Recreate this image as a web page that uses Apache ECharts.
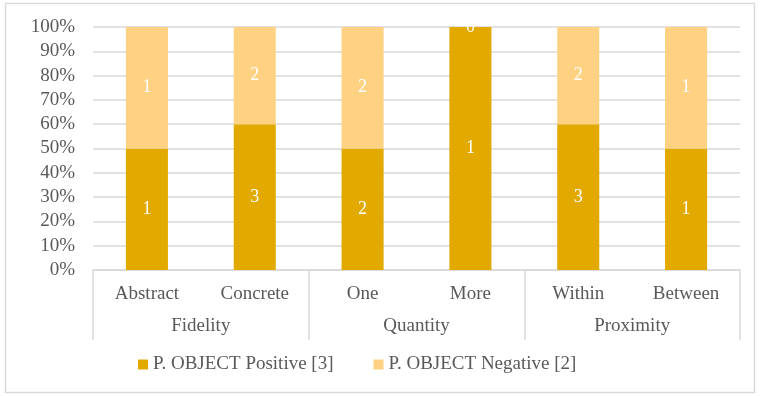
<!DOCTYPE html>
<html>
<head>
<meta charset="utf-8">
<script src="https://cdn.jsdelivr.net/npm/echarts@6/dist/echarts.min.js"></script>
<style>
  html, body { margin: 0; padding: 0; background: #fff; }
  #chart { width: 760px; height: 396px; }
</style>
</head>
<body>
<div id="chart"></div>
<script>
  const categories = ["Abstract", "Concrete", "One", "More", "Within", "Between"];
  const groups = ["Fidelity", "Quantity", "Proximity"];
  const positiveCounts = [1, 3, 2, 1, 3, 1];
  const negativeCounts = [1, 2, 2, 0, 2, 1];
  const yTicks = [0, 10, 20, 30, 40, 50, 60, 70, 80, 90, 100];

  const font = "Liberation Serif";
  const textGray = "#595959";
  const lineGray = "#D9D9D9";

  // share of each bar, in percent
  const toShare = (counts) => counts.map((c, i) => {
    const total = positiveCounts[i] + negativeCounts[i];
    return { value: total ? (c * 100) / total : 0, count: c };
  });

  var myChart = echarts.init(document.getElementById("chart"));

  const option = {
    animation: false,
    graphic: [
      {
        type: "rect",
        shape: { x: 5.5, y: 3.5, width: 749, height: 389 },
        style: { fill: "none", stroke: lineGray, lineWidth: 1.5 },
        silent: true,
      },
    ],
    grid: { left: 93, right: 20, top: 27, bottom: 126 },
    legend: {
      bottom: 17,
      left: 133,
      icon: "rect",
      itemWidth: 10,
      itemHeight: 10,
      itemGap: 40,
      textStyle: { fontFamily: font, fontSize: 19, color: textGray },
    },
    xAxis: [
      {
        type: "category",
        data: categories,
        axisLine: { lineStyle: { color: lineGray, width: 1.5 } },
        axisTick: { show: false },
        axisLabel: {
          margin: 15,
          fontFamily: font,
          fontSize: 19,
          color: textGray,
        },
      },
      {
        type: "category",
        data: groups,
        position: "bottom",
        axisLine: { show: false },
        axisTick: {
          show: true,
          length: 70,
          lineStyle: { color: lineGray, width: 1.5 },
        },
        axisLabel: {
          margin: 47,
          fontFamily: font,
          fontSize: 19,
          color: textGray,
        },
      },
    ],
    yAxis: {
      type: "value",
      min: yTicks[0],
      max: yTicks[yTicks.length - 1],
      interval: 10,
      axisLine: { show: false },
      axisTick: { show: false },
      splitLine: { lineStyle: { color: lineGray, width: 1.5 } },
      axisLabel: {
        margin: 18,
        formatter: "{value}%",
        fontFamily: font,
        fontSize: 19,
        color: textGray,
      },
    },
    series: [
      {
        name: "P. OBJECT Positive [3]",
        type: "bar",
        stack: "total",
        barWidth: "39%",
        itemStyle: { color: "#E2AA00" },
        label: {
          show: true,
          position: "inside",
          formatter: (p) => p.data.count,
          color: "#fff",
          fontFamily: font,
          fontSize: 18,
        },
        data: toShare(positiveCounts),
      },
      {
        name: "P. OBJECT Negative [2]",
        type: "bar",
        stack: "total",
        barWidth: "39%",
        itemStyle: { color: "#FFD283" },
        label: {
          show: true,
          position: "inside",
          formatter: (p) => p.data.count,
          color: "#fff",
          fontFamily: font,
          fontSize: 18,
        },
        data: toShare(negativeCounts),
      },
    ],
  };

  myChart.setOption(option);
</script>
</body>
</html>
